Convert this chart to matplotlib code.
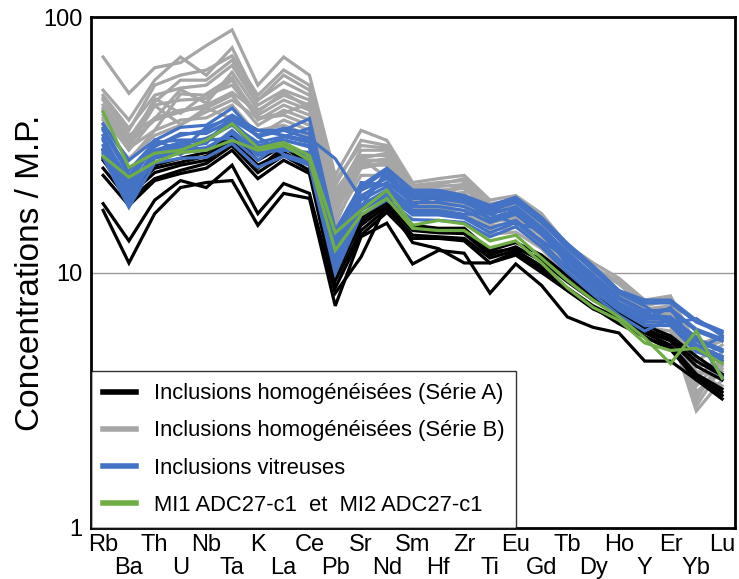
import matplotlib
matplotlib.use("Agg")
import matplotlib.pyplot as plt
from matplotlib.lines import Line2D

plt.rcParams['font.family'] = ['Liberation Sans', 'DejaVu Sans']

elements = ["Rb", "Ba", "Th", "U", "Nb", "Ta", "K", "La", "Ce", "Pb", "Sr", "Nd", "Sm",
            "Hf", "Zr", "Ti", "Eu", "Gd", "Tb", "Dy", "Ho", "Y", "Er", "Yb", "Lu"]

# Inclusions homogénéisées (Série A)
serie_a = [
    [30.1, 21.9, 26.3, 28.0, 29.5, 34.4, 27.5, 31.4, 27.5, 10.9, 16.3, 19.5, 15.3, 14.9, 14.9, 12.2, 13.1, 11.7, 9.7, 8.1, 7.1, 6.2, 5.65, 4.7, 4.0],
    [27.5, 20.0, 24.6, 26.3, 27.5, 32.9, 26.3, 29.5, 26.3, 10.2, 15.3, 18.3, 14.6, 14.3, 14.2, 11.7, 12.6, 11.1, 9.2, 7.8, 6.9, 5.9, 5.4, 4.3, 3.8],
    [25.6, 19.2, 23.3, 25.1, 26.7, 31.4, 24.6, 28.7, 25.1, 9.3, 14.6, 17.8, 14.0, 13.8, 13.6, 11.4, 12.2, 10.6, 8.7, 7.4, 6.6, 5.8, 5.2, 4.0, 3.5],
    [24.0, 18.3, 22.9, 24.4, 25.6, 30.1, 23.3, 27.5, 24.4, 8.7, 14.0, 17.2, 13.6, 13.6, 13.3, 10.9, 12.0, 10.3, 8.5, 7.2, 6.5, 5.6, 5.0, 3.8, 3.3],
    [18.6, 13.3, 19.2, 22.9, 21.5, 26.3, 17.0, 22.3, 20.4, 8.3, 11.5, 18.6, 13.1, 12.4, 10.9, 10.9, 11.7, 10.0, 8.5, 7.3, 6.3, 5.6, 5.1, 3.9, 3.4],
    [17.5, 10.9, 17.0, 21.5, 22.5, 22.9, 15.3, 20.4, 19.5, 7.4, 13.8, 15.6, 10.8, 12.2, 11.9, 8.3, 10.8, 8.9, 6.7, 6.1, 5.8, 4.5, 4.5, 3.8, 3.2],
    [28.0, 21.0, 25.6, 27.0, 28.5, 33.5, 25.6, 30.8, 26.8, 9.7, 15.8, 18.9, 14.9, 14.6, 14.3, 12.0, 12.4, 11.3, 9.3, 7.9, 7.0, 6.0, 5.5, 4.5, 3.95],
]

# Inclusions homogénéisées (Série B)
serie_b = [
    [69.7, 50.3, 63.3, 66.3, 77.3, 89.0, 54.1, 69.7, 59.2, 24.0, 36.0, 32.9, 22.5, 23.3, 24.0, 19.2, 20.0, 17.0, 12.8, 10.9, 9.5, 7.8, 8.1, 5.2, 5.65],
    [51.7, 39.5, 56.6, 69.7, 59.2, 75.8, 47.3, 59.2, 51.7, 21.9, 32.9, 31.4, 21.9, 22.5, 22.9, 18.3, 19.5, 16.4, 12.5, 10.4, 9.0, 7.4, 7.8, 4.5, 5.2],
    [49.4, 36.7, 49.4, 52.7, 54.1, 64.7, 45.2, 51.7, 47.3, 20.0, 30.1, 30.1, 21.0, 21.7, 22.1, 17.8, 18.6, 13.8, 11.0, 10.0, 9.3, 7.2, 7.4, 3.8, 4.9],
    [47.3, 34.4, 40.0, 52.0, 46.0, 60.8, 43.2, 49.4, 45.2, 19.2, 28.7, 28.7, 20.4, 21.0, 21.3, 17.3, 18.1, 15.3, 11.7, 9.7, 8.3, 7.0, 7.1, 3.3, 4.5],
    [45.2, 32.9, 45.2, 47.3, 47.9, 56.6, 41.3, 47.3, 43.2, 18.3, 27.5, 27.5, 19.8, 18.6, 22.5, 15.5, 19.0, 14.9, 11.4, 9.5, 8.1, 6.8, 6.9, 3.0, 4.3],
    [43.2, 31.4, 48.0, 42.0, 50.0, 58.0, 39.5, 45.2, 41.3, 17.5, 26.3, 26.3, 19.3, 19.8, 20.2, 16.3, 16.9, 14.3, 10.9, 9.1, 7.9, 6.7, 6.7, 3.4, 4.1],
    [41.3, 30.1, 40.3, 43.2, 44.0, 49.4, 37.7, 43.2, 39.5, 16.8, 28.0, 23.5, 20.5, 19.2, 19.5, 15.7, 16.3, 13.9, 10.6, 8.9, 7.6, 6.5, 6.5, 4.1, 3.9],
    [39.5, 31.0, 45.0, 38.0, 42.5, 47.3, 40.0, 41.3, 37.7, 16.0, 24.0, 24.0, 18.3, 18.6, 18.8, 15.2, 15.7, 13.3, 10.4, 8.7, 7.4, 6.3, 6.2, 3.15, 4.7],
    [37.7, 27.5, 36.0, 39.5, 40.3, 45.2, 34.4, 39.5, 36.0, 15.3, 26.0, 27.0, 17.8, 18.1, 18.3, 14.6, 15.1, 13.0, 10.0, 8.3, 7.2, 6.1, 5.9, 2.87, 3.8],
    [48.2, 36.0, 54.1, 59.2, 62.0, 70.5, 49.4, 62.0, 54.1, 22.9, 31.4, 30.7, 21.5, 22.1, 23.3, 18.6, 19.2, 16.6, 12.2, 10.5, 9.2, 7.6, 7.9, 4.9, 5.4],
    [44.0, 33.5, 46.5, 56.6, 56.6, 67.8, 47.3, 55.6, 49.4, 21.0, 28.0, 29.3, 20.2, 20.6, 21.9, 17.5, 17.8, 16.8, 12.5, 10.4, 8.5, 7.1, 7.2, 3.6, 4.6],
    [40.3, 30.7, 36.0, 50.0, 49.4, 54.1, 40.3, 42.0, 46.0, 17.2, 25.6, 26.8, 19.2, 19.5, 19.8, 16.0, 16.6, 14.1, 10.7, 9.0, 7.8, 6.4, 6.6, 3.4, 4.2],
    [36.7, 27.9, 34.4, 37.7, 44.0, 40.0, 36.0, 37.7, 34.4, 19.2, 21.9, 21.9, 17.5, 17.8, 17.5, 14.1, 14.4, 12.4, 9.6, 8.1, 7.0, 5.9, 5.65, 3.95, 3.6],
    [42.5, 32.3, 39.5, 42.5, 45.2, 50.7, 42.5, 50.7, 44.0, 16.8, 26.8, 27.9, 19.7, 20.0, 20.6, 15.5, 17.2, 14.6, 11.1, 9.3, 8.1, 6.9, 7.0, 4.3, 4.4],
]

# Inclusions vitreuses
vitreuses = [
    [38.2, 27.5, 32.9, 37.0, 37.7, 44.0, 34.0, 36.0, 40.0, 14.6, 21.9, 25.6, 21.0, 21.0, 20.0, 18.3, 19.7, 16.4, 13.0, 10.6, 8.5, 7.8, 7.8, 6.5, 5.9],
    [36.0, 24.0, 31.4, 34.4, 36.0, 41.3, 36.0, 36.0, 33.5, 27.9, 19.5, 24.0, 20.0, 20.0, 19.5, 17.5, 18.8, 15.7, 12.5, 10.2, 8.3, 7.4, 6.3, 6.6, 5.65],
    [34.4, 21.9, 33.0, 30.0, 37.0, 40.3, 36.0, 34.4, 32.9, 13.3, 21.0, 23.3, 19.5, 19.5, 18.8, 16.9, 18.1, 15.0, 12.0, 9.8, 8.0, 7.1, 7.1, 5.9, 5.4],
    [32.9, 21.0, 30.1, 32.3, 32.9, 38.8, 31.4, 32.9, 31.4, 12.4, 20.0, 22.5, 18.8, 18.8, 18.1, 16.3, 17.5, 14.6, 11.6, 9.5, 7.3, 6.5, 7.3, 5.0, 5.6],
    [31.4, 20.0, 29.3, 31.1, 32.0, 41.0, 34.0, 29.0, 27.0, 11.7, 19.2, 21.7, 18.1, 18.1, 17.5, 15.7, 16.9, 14.1, 11.1, 9.1, 7.5, 6.6, 6.6, 5.4, 4.9],
    [30.1, 19.2, 28.5, 30.1, 30.8, 35.0, 28.7, 30.8, 28.7, 10.9, 18.3, 21.0, 17.5, 17.5, 16.9, 17.0, 15.5, 14.8, 10.7, 8.8, 7.3, 6.4, 6.4, 5.2, 4.7],
    [29.0, 18.3, 30.0, 29.0, 33.0, 33.5, 27.5, 33.0, 31.0, 10.4, 17.5, 20.0, 16.8, 16.8, 16.3, 14.3, 15.7, 13.1, 10.4, 8.5, 7.1, 6.2, 6.2, 4.9, 4.5],
    [28.2, 18.0, 26.8, 28.0, 28.2, 32.0, 25.8, 28.5, 26.3, 9.9, 16.8, 19.2, 16.1, 16.0, 15.7, 13.8, 15.1, 12.6, 10.0, 8.2, 6.8, 5.9, 6.6, 5.6, 3.9],
    [36.7, 25.1, 32.3, 33.0, 33.0, 38.0, 30.0, 34.0, 36.7, 14.0, 21.3, 25.1, 20.6, 20.6, 19.7, 17.9, 19.3, 16.1, 12.8, 10.4, 8.4, 7.6, 7.6, 6.4, 5.8],
    [33.5, 22.9, 31.1, 35.0, 35.0, 39.5, 34.4, 36.7, 35.0, 12.8, 22.5, 22.0, 21.0, 19.2, 19.2, 17.3, 17.8, 14.9, 11.8, 9.7, 7.9, 7.0, 7.2, 6.0, 5.5],
    [30.4, 21.3, 29.8, 31.7, 33.5, 37.7, 32.3, 34.0, 32.3, 12.0, 18.0, 25.0, 18.4, 20.0, 19.5, 16.0, 17.2, 14.3, 11.3, 9.3, 7.6, 6.8, 6.7, 5.5, 5.0],
    [29.5, 19.5, 28.0, 29.5, 30.1, 36.0, 29.5, 30.1, 29.5, 11.4, 17.8, 20.6, 17.2, 17.2, 16.6, 14.9, 16.0, 13.3, 11.4, 9.6, 7.9, 7.0, 6.3, 5.0, 4.6],
]

# MI1 ADC27-c1 et MI2 ADC27-c1
mi_adc27 = [
    [42.5, 25.8, 29.3, 30.1, 32.9, 38.2, 30.7, 32.3, 28.7, 14.3, 17.5, 21.0, 15.3, 16.0, 15.5, 13.3, 14.0, 11.4, 9.3, 7.8, 6.7, 5.55, 4.4, 5.9, 3.85],
    [28.5, 23.6, 27.0, 29.5, 30.1, 32.9, 30.1, 31.4, 27.5, 12.2, 16.8, 19.5, 14.9, 14.6, 14.6, 12.5, 13.3, 10.9, 8.7, 7.3, 6.5, 5.3, 4.95, 5.05, 4.4],
]

legend_labels = ["Inclusions homogénéisées (Série A)",
                 "Inclusions homogénéisées (Série B)",
                 "Inclusions vitreuses",
                 "MI1 ADC27-c1  et  MI2 ADC27-c1"]
colors = ["#000000", "#a6a6a6", "#4472c4", "#70ad47"]

W, H = 739, 579
fig = plt.figure(figsize=(W / 100, H / 100), dpi=100)
ax = fig.add_axes([91 / W, 1 - 528 / H, (735 - 91) / W, (528 - 17) / H])

x = list(range(len(elements)))
lw = 2.3
for row in serie_b:
    ax.plot(x, row, color=colors[1], lw=lw, zorder=2, solid_joinstyle='miter')
for row in serie_a:
    ax.plot(x, row, color=colors[0], lw=lw, zorder=3, solid_joinstyle='miter')
for row in vitreuses:
    ax.plot(x, row, color=colors[2], lw=lw, zorder=4, solid_joinstyle='miter')
for row in mi_adc27:
    ax.plot(x, row, color=colors[3], lw=lw, zorder=5, solid_joinstyle='miter')

ax.set_yscale('log')
ax.set_ylim(1, 100)
ax.set_xlim(-0.47, len(elements) - 0.5)
ax.set_yticks([1, 10, 100])
ax.set_yticklabels(["1", "10", "100"])
ax.yaxis.set_minor_locator(matplotlib.ticker.NullLocator())
ax.axhline(10, color="#9a9a9a", lw=1.0, zorder=1)

even = [i for i in x if i % 2 == 0]
odd = [i for i in x if i % 2 == 1]
ax.set_xticks(even)
ax.set_xticklabels([elements[i] for i in even])
ax.set_xticks(odd, minor=True)
ax.set_xticklabels([elements[i] for i in odd], minor=True)
ax.tick_params(axis='x', which='major', length=0, pad=4, labelsize=17)
ax.tick_params(axis='x', which='minor', length=0, pad=21, labelsize=17)
ax.tick_params(axis='y', which='both', length=0, pad=6, labelsize=17)

for s in ax.spines.values():
    s.set_linewidth(2)
    s.set_color('black')

ax.set_ylabel("Concentrations / M.P.", fontsize=24, labelpad=-2)

handles = [Line2D([0], [0], color=c, lw=4) for c in colors]
leg = ax.legend(handles, legend_labels, loc='lower left', bbox_to_anchor=(0, 0, 0.66, 0.305),
                mode='expand', borderaxespad=0, fontsize=15.8, frameon=True, fancybox=False,
                edgecolor='black', handlelength=1.5, handletextpad=0.8, labelspacing=0.74,
                borderpad=0.55)
leg.get_frame().set_linewidth(1.0)
leg.set_zorder(10)

fig.savefig("out.png", dpi=100, facecolor='white')
